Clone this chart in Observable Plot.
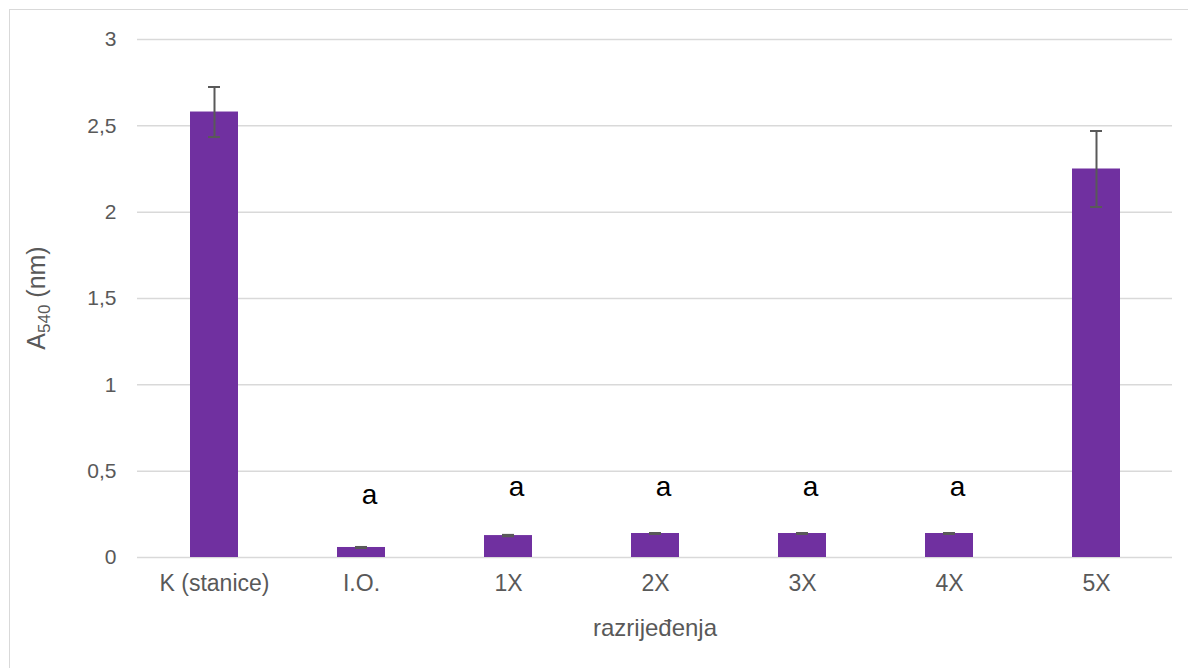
<!DOCTYPE html>
<html>
<head>
<meta charset="utf-8">
<script src="https://cdn.jsdelivr.net/npm/d3@7"></script>
<script src="https://cdn.jsdelivr.net/npm/@observablehq/plot@0.6"></script>
<style>
  html, body { margin: 0; padding: 0; background: #fff; }
  #wrap { position: relative; width: 1188px; height: 668px; overflow: hidden; font-family: "Liberation Sans", Arial, sans-serif; }
  #frame { position: absolute; left: 9px; top: 9px; width: 1300px; height: 800px; border: 1.5px solid #d9d9d9; box-sizing: border-box; }
  #chart { position: absolute; left: 0; top: 0; }
  #ylab { position: absolute; left: 38px; top: 298px; transform: translate(-50%, -50%) rotate(-90deg); font-size: 25px; color: #595959; white-space: nowrap; }
  #ylab sub { font-size: 17px; vertical-align: -5px; }
</style>
</head>
<body>
<div id="wrap">
  <div id="frame"></div>
  <div id="chart"></div>
  <div id="ylab">A<sub>540</sub> (nm)</div>
</div>
<script>
const categories = ["K (stanice)", "I.O.", "1X", "2X", "3X", "4X", "5X"];
const means = [2.58, 0.058, 0.127, 0.139, 0.139, 0.139, 2.25];
const errors = [0.145, 0.003, 0.004, 0.003, 0.003, 0.003, 0.22];
const sigLabels = ["", "a", "a", "a", "a", "a", ""];
const sigLabelY = [null, 0.36, 0.41, 0.41, 0.41, 0.41, null];
const yTicks = [0, 0.5, 1, 1.5, 2, 2.5, 3];
const yTickLabels = ["0", "0,5", "1", "1,5", "2", "2,5", "3"];

const data = categories.map((c, i) => ({cat: c, v: means[i], lo: means[i] - errors[i], hi: means[i] + errors[i]}));
const labels = categories.map((c, i) => ({cat: c, t: sigLabels[i], y: sigLabelY[i]})).filter(d => d.t);

const plot = Plot.plot({
  width: 1188,
  height: 668,
  marginLeft: 137,
  marginRight: 16,
  marginTop: 39,
  marginBottom: 111,
  style: {fontFamily: "Liberation Sans, Arial, sans-serif", background: "transparent"},
  x: {type: "band", domain: categories, paddingInner: 0.675, paddingOuter: 0.3375, align: 0.5},
  y: {domain: [0, 3]},
  marks: [
    Plot.ruleY(yTicks, {stroke: "#d9d9d9", strokeWidth: 1.5}),
    Plot.axisY({ticks: yTicks, tickFormat: (d) => yTickLabels[yTicks.indexOf(d)], tickSize: 0, tickPadding: 21, fontSize: 21, color: "#595959", label: null}),
    Plot.axisX({tickSize: 0, tickPadding: 17, fontSize: 23, color: "#595959", label: "razrijeđenja", labelAnchor: "center", labelArrow: "none", labelOffset: 78}),
    Plot.barY(data, {x: "cat", y: "v", fill: "#7030a0"}),
    Plot.ruleX(data, {x: "cat", y1: "lo", y2: "hi", stroke: "#595959", strokeWidth: 2}),
    Plot.tickY(data, {x: "cat", y: "hi", stroke: "#595959", strokeWidth: 2, insetLeft: 18, insetRight: 18}),
    Plot.tickY(data, {x: "cat", y: "lo", stroke: "#595959", strokeWidth: 2, insetLeft: 18, insetRight: 18}),
    Plot.text(labels, {x: "cat", y: "y", text: "t", fontSize: 28, fill: "#000", dx: 8, lineAnchor: "middle"})
  ]
});
document.getElementById("chart").appendChild(plot);
plot.querySelectorAll("[aria-label='x-axis label'] text, [aria-label='x-axis label']").forEach(t => { t.setAttribute("font-size", 24); t.setAttribute("fill", "#595959"); });
</script>
</body>
</html>
